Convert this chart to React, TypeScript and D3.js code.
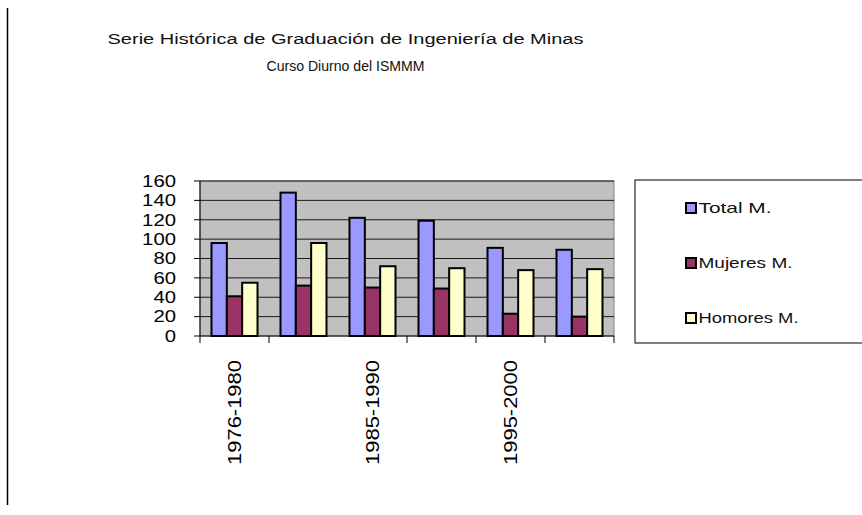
import React from 'react';
import * as d3 from 'd3';

const categories = ['1976-1980', '1980-1985', '1985-1990', '1990-1995', '1995-2000', '2000-2005'];
const seriesNames = ['Total M.', 'Mujeres M.', 'Hombres M.'];
const legendLabels = ['Total M.', 'Mujeres M.', 'Homores M.'];
const totalM = [96, 148, 122, 119, 91, 89];
const mujeresM = [41, 52, 50, 49, 23, 20];
const hombresM = [55, 96, 72, 70, 68, 69];
const yTicks = [0, 20, 40, 60, 80, 100, 120, 140, 160];
const titleLines = ['Serie Histórica de Graduación de Ingeniería de Minas', 'Curso Diurno del ISMMM'];

const colors = ['#9999FF', '#993366', '#FFFFCC'];
const font = '"Liberation Sans", Arial, sans-serif';

const App = () => {
  const width = 862;
  const height = 515;
  const plot = { left: 200, right: 614, top: 181, bottom: 336 };

  const x = d3.scaleBand().domain(categories).range([plot.left, plot.right]);
  const inner = d3.scaleBand().domain(seriesNames).range([0, x.bandwidth()]).paddingOuter(0.75);
  const y = d3.scaleLinear().domain([0, 160]).range([plot.bottom, plot.top]);

  const series = [totalM, mujeresM, hombresM];
  const bars = categories.flatMap((c, i) =>
    seriesNames.map((s, j) => ({ c, s, j, v: series[j][i] }))
  );

  // tick marks at the category edges (the one after the 2nd group is absent in the original)
  const edges = [...categories.map(c => x(c)), plot.right].filter((_, i) => i !== 2);

  return (
    <svg width={width} height={height} style={{ position: 'absolute', left: 0, top: 0, background: '#fff' }}>
      <line x1={7.5} x2={7.5} y1={8} y2={505} stroke="#000" strokeWidth={1.5} />

      {titleLines.map((t, i) => (
        <text key={t} x={345.5} y={44 + i * 27} textAnchor="middle" fontFamily={font} fontSize={15.5}
          textLength={i === 0 ? 476 : 158} lengthAdjust="spacingAndGlyphs" fill="#111">{t}</text>
      ))}

      <rect x={plot.left} y={plot.top} width={plot.right - plot.left} height={plot.bottom - plot.top}
        fill="#C0C0C0" stroke="#808080" strokeWidth={1} />

      {yTicks.filter(t => t > 0).map(t => (
        <line key={t} x1={plot.left} x2={plot.right} y1={y(t)} y2={y(t)} stroke="#1a1a1a" strokeWidth={1} />
      ))}

      {bars.map(b => (
        <rect key={b.c + b.s} x={(x(b.c) ?? 0) + (inner(b.s) ?? 0)} y={y(b.v)}
          width={inner.bandwidth()} height={y(0) - y(b.v)}
          fill={colors[b.j]} stroke="#000" strokeWidth={2} />
      ))}

      <line x1={plot.left} x2={plot.left} y1={plot.top} y2={plot.bottom} stroke="#000" strokeWidth={1} />
      <line x1={plot.left} x2={plot.right} y1={plot.bottom} y2={plot.bottom} stroke="#000" strokeWidth={1} />

      {yTicks.map(t => (
        <g key={t}>
          <line x1={plot.left - 6} x2={plot.left} y1={y(t)} y2={y(t)} stroke="#000" strokeWidth={1} />
          <text x={176} y={y(t)} dy="0.36em" textAnchor="end" fontFamily={font} fontSize={16}
            textLength={String(t).length * 11.3} lengthAdjust="spacingAndGlyphs" fill="#000">{t}</text>
        </g>
      ))}

      {edges.map((e, i) => (
        <line key={i} x1={e} x2={e} y1={plot.bottom} y2={plot.bottom + 7} stroke="#000" strokeWidth={1} />
      ))}

      {categories.map((c, i) => i % 2 === 0 && (
        <text key={c} transform={`translate(${(x(c) ?? 0) + x.bandwidth() / 2},360) rotate(-90)`}
          dy="0.36em" textAnchor="end" fontFamily={font} fontSize={19}
          textLength={105} lengthAdjust="spacingAndGlyphs" fill="#000">{c}</text>
      ))}

      <rect x={635} y={180} width={260} height={163} fill="#fff" stroke="#000" strokeWidth={1} />
      {legendLabels.map((l, i) => (
        <g key={l} transform={`translate(686,${208 + i * 55})`}>
          <rect x={0} y={-5} width={10} height={10} fill={colors[i]} stroke="#000" strokeWidth={2} />
          <text x={12.5} y={0} dy="0.36em" fontFamily={font} fontSize={15}
            textLength={[73, 94, 100][i]} lengthAdjust="spacingAndGlyphs" fill="#111">{l}</text>
        </g>
      ))}
    </svg>
  );
};

export default App;
